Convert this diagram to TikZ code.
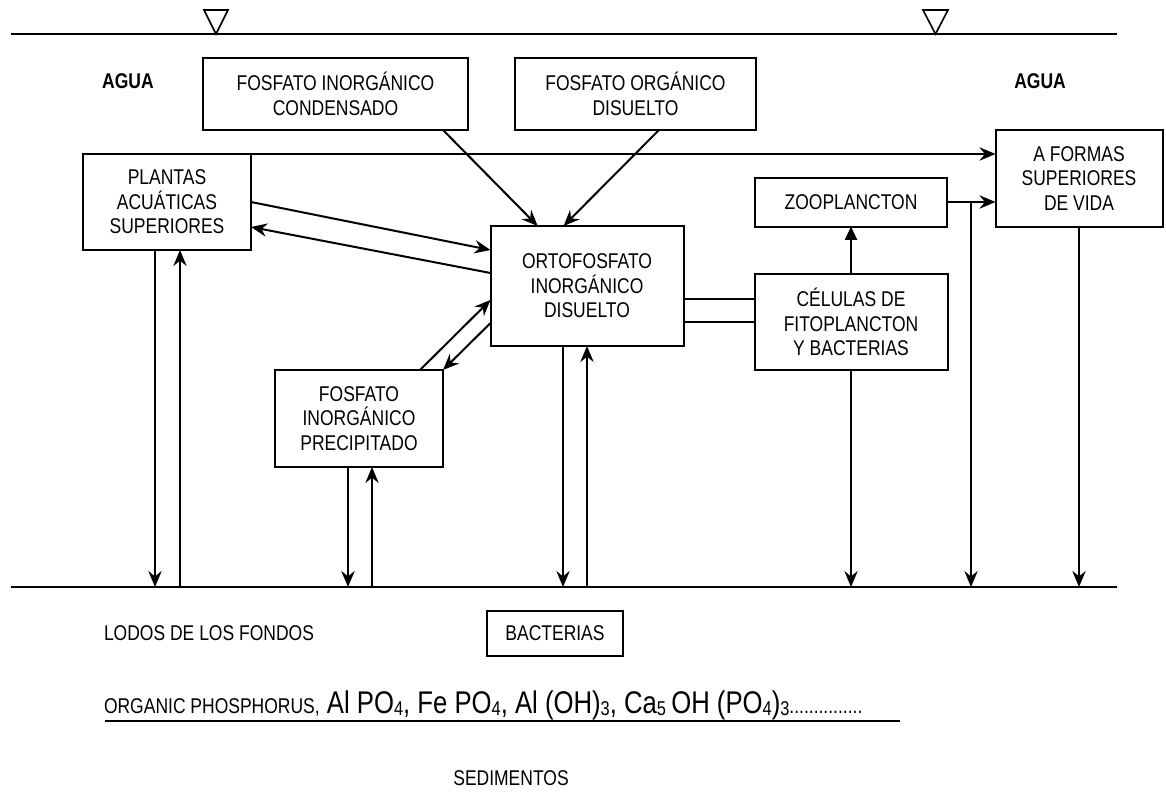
\documentclass[tikz,border=0pt]{standalone}
\usepackage{fontspec}
\setmainfont{Liberation Sans}[FakeStretch=0.82]
\usetikzlibrary{arrows.meta}
\tikzset{
  box/.style={draw,rectangle,inner sep=0pt,outer sep=0pt,align=center,font=\fontsize{16}{18.4}\selectfont},
  arr/.style={-{Stealth[length=12pt,width=10pt,inset=4pt]}},
  tri/.style={-{Triangle[length=10pt,width=9pt]}},
  lbl/.style={font=\fontsize{16}{18.4}\selectfont}
}
\newcommand{\sub}[1]{\raisebox{-1.5pt}{\fontsize{15}{15}\selectfont #1}}
\begin{document}
\begin{tikzpicture}[x=0.75pt,y=-0.75pt,line width=1.5pt]
\useasboundingbox (0,0) rectangle (1166,792);
\coordinate (topL) at (11,34);
\coordinate (topR) at (1117,34);
\coordinate (sedL) at (11,587);
\coordinate (sedR) at (1117,587);
\draw (topL) -- (topR);
\draw (sedL) -- (sedR);
\draw[line width=1.2pt] (204,10) -- (228,10) -- (216,34) -- cycle;
\draw[line width=1.2pt] (923,10) -- (948,10) -- (935.5,34) -- cycle;
\node[lbl,font=\fontsize{16}{18.4}\selectfont\bfseries] (agua1) at (128,81) {AGUA};
\node[lbl,font=\fontsize{16}{18.4}\selectfont\bfseries] (agua2) at (1040,81) {AGUA};
\node[box,minimum width=198.75pt,minimum height=54pt] (cond) at (335.5,94) {FOSFATO INORGÁNICO\\CONDENSADO};
\node[box,minimum width=180.75pt,minimum height=54pt] (orgd) at (635.5,94) {FOSFATO ORGÁNICO\\DISUELTO};
\node[box,minimum width=126pt,minimum height=72pt] (plantas) at (167,202) {PLANTAS\\ACUÁTICAS\\SUPERIORES};
\node[box,minimum width=125.25pt,minimum height=72.75pt] (formas) at (1079,178.5) {A FORMAS\\SUPERIORES\\DE VIDA};
\node[box,minimum width=144pt,minimum height=36.75pt] (zoo) at (851,202) {ZOOPLANCTON};
\node[box,minimum width=144.75pt,minimum height=90pt] (orto) at (587,286) {ORTOFOSFATO\\INORGÁNICO\\DISUELTO};
\node[box,minimum width=144.75pt,minimum height=72pt] (celulas) at (851,322) {CÉLULAS DE\\FITOPLANCTON\\Y BACTERIAS};
\node[box,minimum width=126pt,minimum height=72.75pt] (precip) at (359,418.5) {FOSFATO\\INORGÁNICO\\PRECIPITADO};
\node[box,minimum width=102pt,minimum height=33.75pt] (bact) at (555,633.5) {BACTERIAS};
\node[lbl] (lodos) at (209,633) {LODOS DE LOS FONDOS};
\node[lbl] (sedim) at (511,778) {SEDIMENTOS};
\node[anchor=base west,inner sep=0pt,font=\fontsize{23.5}{25}\selectfont] (formula) at (103,713)
  {{\fontsize{16}{18}\selectfont ORGANIC PHOSPHORUS,} Al PO\sub{4}, Fe PO\sub{4}, Al (OH)\sub{3}, Ca\sub{5}\,OH (PO\sub{4})\sub{3}{\fontsize{16}{18}\selectfont...............}};
\coordinate (ulL) at (105,721);
\coordinate (ulR) at (900,721);
\draw[line width=1.1pt] (ulL) -- (ulR);
\draw[arr] (plantas.north east) -- (plantas.north east -| formas.west);
\draw[arr] (zoo.east) -- (zoo.east -| formas.west);
\coordinate (zj) at (971,202);
\draw[arr] (zj) -- (zj |- sedL);
\draw[arr] (formas.south) -- (formas.south |- sedL);
\draw[tri] (celulas.north) -- (zoo.south);
\draw[arr] (celulas.south) -- (celulas.south |- sedL);
\draw ([yshift=17.25pt]celulas.west) -- ([yshift=17.25pt]celulas.west -| orto.east);
\draw (celulas.west) -- (celulas.west -| orto.east);
\draw[arr] ([xshift=-18pt]orto.south) -- ([xshift=-18pt]orto.south |- sedL);
\draw[arr] (orto.south |- sedL) -- (orto.south);
\draw[arr] ([xshift=-9pt]plantas.south) -- ([xshift=-9pt]plantas.south |- sedL);
\draw[arr] ([xshift=9.75pt]plantas.south |- sedL) -- ([xshift=9.75pt]plantas.south);
\draw[arr] ([xshift=-8.25pt]precip.south) -- ([xshift=-8.25pt]precip.south |- sedL);
\draw[arr] ([xshift=9.75pt]precip.south |- sedL) -- ([xshift=9.75pt]precip.south);
\draw[arr] ([xshift=-18.75pt]cond.south east) -- ([xshift=-37pt]orto.north);
\draw[arr] ([xshift=17.6pt]orgd.south) -- ([xshift=-17.6pt]orto.north);
\draw[arr] (plantas.east) -- ([yshift=27pt]orto.west);
\draw[arr] ([yshift=9.75pt]orto.west) -- ([yshift=-18.75pt]plantas.east);
\draw[arr] ([xshift=-17.25pt]precip.north east) -- ([yshift=-10.5pt]orto.west);
\draw[arr] ([yshift=-27.75pt]orto.west) -- (precip.north east);
\end{tikzpicture}
\end{document}
